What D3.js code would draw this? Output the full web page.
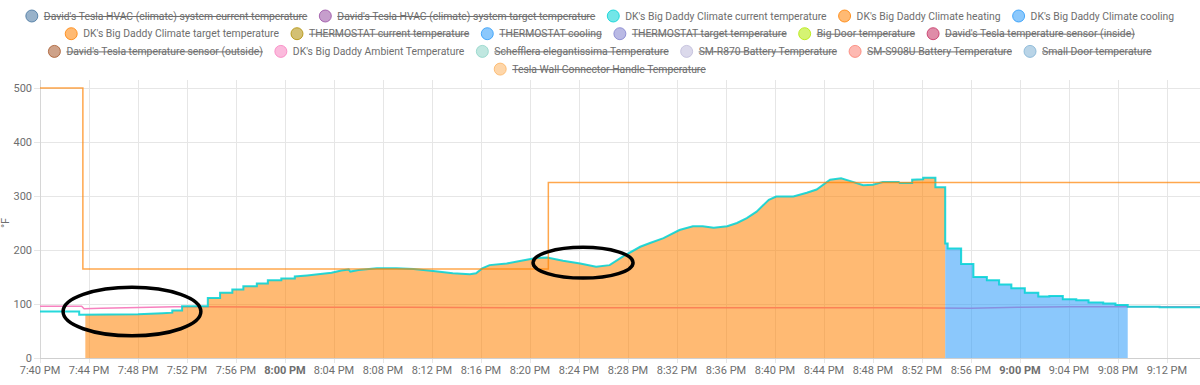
<!DOCTYPE html>
<html>
<head>
<meta charset="utf-8">
<script src="https://cdn.jsdelivr.net/npm/d3@7"></script>
<style>
  body { margin: 0; background: #fff; }
  svg { font-family: Roboto, "Noto Sans", sans-serif; }
</style>
</head>
<body>
<div id="chart"></div>
<script>
// ---- data ----
var legendRows = [
    ["David's Tesla HVAC (climate) system current temperature", "David's Tesla HVAC (climate) system target temperature",
     "DK's Big Daddy Climate current temperature", "DK's Big Daddy Climate heating", "DK's Big Daddy Climate cooling"],
    ["DK's Big Daddy Climate target temperature", "THERMOSTAT current temperature", "THERMOSTAT cooling",
     "THERMOSTAT target temperature", "Big Door temperature", "David's Tesla temperature sensor (inside)"],
    ["David's Tesla temperature sensor (outside)", "DK's Big Daddy Ambient Temperature", "Schefflera elegantissima Temperature",
     "SM-R870 Battery Temperature", "SM-S908U Battery Temperature", "Small Door temperature"],
    ["Tesla Wall Connector Handle Temperature"]
];
var legendColors = [
    ["#44739e", "#984ea3", "#00d2d5", "#ff8100", "#2b9af9"],
    ["#ff8100", "#af8d00", "#2b9af9", "#7f80cd", "#b3e900", "#c42e60"],
    ["#a65628", "#f781bf", "#8dd3c7", "#bebada", "#fb8072", "#80b1d3"],
    ["#fdb462"]
];
var legendHidden = [
    [true, true, false, false, false],
    [false, true, true, true, true, true],
    [true, false, true, true, true, true],
    [true]
];

var yTicks = [0, 100, 200, 300, 400, 500];
var timeStart = "19:40:00", timeEnd = "21:14:42";

// DK's Big Daddy Climate current temperature (vertices of the drawn line)
var currentTemp = [
    ["19:40:00", 86], ["19:43:12", 86], ["19:43:12", 80], ["19:48:00", 81], ["19:50:00", 83],
    ["19:50:48", 84], ["19:50:48", 88], ["19:51:36", 88], ["19:51:36", 96], ["19:53:42", 96],
    ["19:53:42", 111], ["19:54:42", 111], ["19:54:42", 121], ["19:55:42", 121], ["19:55:42", 127],
    ["19:56:36", 127], ["19:56:36", 133], ["19:57:42", 133], ["19:57:42", 138], ["19:58:36", 138],
    ["19:58:36", 144], ["19:59:42", 144], ["19:59:42", 147], ["20:00:48", 147], ["20:00:48", 151],
    ["20:01:48", 153], ["20:02:42", 155], ["20:03:48", 158], ["20:04:36", 162], ["20:05:12", 164],
    ["20:05:20", 160], ["20:06:00", 163], ["20:07:30", 166], ["20:09:06", 166], ["20:10:30", 165],
    ["20:12:06", 161], ["20:13:42", 157], ["20:15:06", 155], ["20:15:36", 157], ["20:16:06", 166],
    ["20:16:42", 172], ["20:18:06", 175], ["20:19:30", 181], ["20:20:30", 185], ["20:21:24", 186],
    ["20:22:42", 180], ["20:24:06", 175], ["20:25:24", 169], ["20:26:30", 172], ["20:27:36", 188],
    ["20:29:00", 206], ["20:29:48", 213], ["20:30:54", 222], ["20:32:12", 237], ["20:33:18", 244],
    ["20:34:06", 244], ["20:35:00", 241], ["20:36:06", 244], ["20:36:54", 250], ["20:37:42", 259],
    ["20:38:30", 271], ["20:39:30", 293], ["20:40:06", 299], ["20:41:30", 299], ["20:42:36", 306],
    ["20:43:24", 312], ["20:44:30", 330], ["20:45:24", 333], ["20:46:06", 328], ["20:47:12", 320],
    ["20:48:00", 321], ["20:48:48", 326], ["20:50:06", 326], ["20:50:12", 324], ["20:51:12", 324],
    ["20:51:12", 330], ["20:52:06", 331], ["20:52:06", 334], ["20:53:06", 334], ["20:53:06", 316],
    ["20:53:54", 316], ["20:53:54", 212], ["20:54:06", 212], ["20:54:06", 203], ["20:55:12", 203],
    ["20:55:12", 174], ["20:56:12", 174], ["20:56:12", 150], ["20:57:18", 150], ["20:57:18", 144],
    ["20:58:18", 144], ["20:58:18", 136], ["20:59:18", 136], ["20:59:18", 129], ["21:00:24", 129],
    ["21:00:24", 121], ["21:01:30", 121], ["21:01:30", 114], ["21:02:24", 114], ["21:02:24", 115],
    ["21:03:30", 115], ["21:03:30", 109], ["21:04:36", 109], ["21:04:36", 107], ["21:05:36", 107],
    ["21:05:36", 103], ["21:06:48", 103], ["21:06:48", 101], ["21:07:48", 101], ["21:07:48", 98],
    ["21:08:48", 98], ["21:08:48", 95], ["21:11:24", 95], ["21:11:24", 94], ["21:14:42", 94]
];

// DK's Big Daddy Climate target temperature
var targetTemp = [["19:40:00", 500], ["19:43:30", 165], ["20:21:30", 325], ["21:14:42", 325]];

// DK's Big Daddy Ambient Temperature
var ambientTemp = [
    ["19:40:00", 96], ["19:43:24", 96], ["19:43:36", 91], ["19:45:00", 92], ["19:47:00", 93],
    ["19:49:00", 94], ["19:51:00", 95], ["19:53:00", 95], ["20:00:00", 94], ["20:10:00", 94],
    ["20:20:00", 93], ["20:30:00", 93], ["20:40:00", 93], ["20:50:00", 93], ["20:56:00", 92],
    ["21:00:00", 94], ["21:04:00", 95], ["21:10:00", 95], ["21:14:42", 95]
];

var heatingPeriods = [["19:43:42", "20:53:54"]];
var coolingPeriods = [["20:53:54", "21:08:48"]];

// hand-drawn circles on the screenshot: [from, to, low value, high value]
var annotations = [
    ["19:41:53", "19:53:08", 41, 131],
    ["20:20:15", "20:28:25", 148, 205]
];

// ---- drawing ----
var parseTime = function(s) {
    var p = s.split(':').map(Number);
    return new Date(2023, 0, 1, p[0], p[1], p[2] || 0);
};

var width = 1200, height = 385;
var margin = { top: 88, right: 0, bottom: 27, left: 40 };

var svg = d3.select('#chart').append('svg')
    .attr('width', width)
    .attr('height', height);

var x = d3.scaleTime()
    .domain([parseTime(timeStart), parseTime(timeEnd)])
    .range([margin.left, width - margin.right]);

var y = d3.scaleLinear()
    .domain([0, 500])
    .range([height - margin.bottom, margin.top]);

var textColor = '#6e6e6e';

// legend: font size fitted so the first row spans the same width as the screenshot
var legendWidthRow0 = 1149;
var probe = svg.append('text').attr('font-size', 12).text(legendRows[0].join(''));
var rawW = probe.node().getComputedTextLength();
probe.remove();
var legendFont = 12 * (legendWidthRow0 - legendRows[0].length * 30 + 12) / rawW;

var legend = svg.append('g').attr('class', 'legend').attr('font-size', legendFont);
legendRows.forEach(function(row, r) {
    var rowY = 16 + r * 17.7;
    var g = legend.append('g');
    var cursor = 0;
    row.forEach(function(label, i) {
        var item = g.append('g').attr('transform', 'translate(' + cursor + ',0)');
        var col = legendColors[r][i];
        item.append('circle')
            .attr('cx', 6).attr('cy', rowY)
            .attr('r', 6)
            .attr('fill', col).attr('fill-opacity', 0.55)
            .attr('stroke', col).attr('stroke-opacity', 0.8).attr('stroke-width', 1);
        var t = item.append('text')
            .attr('x', 18).attr('y', rowY)
            .attr('dy', '0.35em')
            .attr('fill', textColor)
            .text(label);
        var w = t.node().getComputedTextLength();
        if (legendHidden[r][i]) {
            item.append('line')
                .attr('x1', 18).attr('x2', 18 + w)
                .attr('y1', rowY + 0.5).attr('y2', rowY + 0.5)
                .attr('stroke', textColor).attr('stroke-width', 1);
        }
        cursor += 18 + w + 12;
    });
    var total = cursor - 12;
    g.attr('transform', 'translate(' + (width / 2 - total / 2) + ',0)');
});

// grid
var xTicks = x.ticks(d3.timeMinute.every(4));
var grid = svg.append('g').attr('stroke', '#e6e6e6').attr('stroke-width', 1);
grid.selectAll('.vgrid').data(xTicks).enter().append('line')
    .attr('class', 'vgrid')
    .attr('x1', function(d) { return Math.round(x(d)) + 0.5; })
    .attr('x2', function(d) { return Math.round(x(d)) + 0.5; })
    .attr('y1', 80).attr('y2', y(0) + 5);
grid.selectAll('.hgrid').data(yTicks).enter().append('line')
    .attr('class', 'hgrid')
    .attr('x1', margin.left - 6).attr('x2', width)
    .attr('y1', function(d) { return Math.round(y(d)) + 0.5; })
    .attr('y2', function(d) { return Math.round(y(d)) + 0.5; });

// axis lines
svg.append('line')
    .attr('x1', margin.left + 0.5).attr('x2', margin.left + 0.5)
    .attr('y1', 80).attr('y2', y(0))
    .attr('stroke', '#d6d6d6');
svg.append('line')
    .attr('x1', margin.left).attr('x2', width)
    .attr('y1', Math.round(y(0)) + 0.5).attr('y2', Math.round(y(0)) + 0.5)
    .attr('stroke', '#cfcfcf');

// tick labels
svg.append('g').selectAll('text').data(xTicks).enter().append('text')
    .attr('x', function(d) { return x(d); })
    .attr('y', y(0) + 16)
    .attr('text-anchor', 'middle')
    .attr('font-size', 11)
    .attr('fill', textColor)
    .attr('font-weight', function(d) { return d.getMinutes() === 0 ? 'bold' : 'normal'; })
    .text(function(d) { return d3.timeFormat('%-I:%M %p')(d); });

svg.append('g').selectAll('text').data(yTicks).enter().append('text')
    .attr('x', margin.left - 8)
    .attr('y', function(d) { return y(d); })
    .attr('dy', '0.35em')
    .attr('text-anchor', 'end')
    .attr('font-size', 11)
    .attr('fill', textColor)
    .text(function(d) { return d; });

svg.append('text')
    .attr('transform', 'translate(9,' + y(250) + ') rotate(-90)')
    .attr('text-anchor', 'middle')
    .attr('font-size', 11)
    .attr('fill', textColor)
    .text('°F');

var toPts = function(arr) {
    return arr.map(function(d) { return { t: parseTime(d[0]), v: d[1] }; });
};

var cur = toPts(currentTemp);
var tgt = toPts(targetTemp);
var amb = toPts(ambientTemp);

// ambient line (drawn under the fills)
svg.append('path')
    .datum(amb)
    .attr('fill', 'none')
    .attr('stroke', '#f781bf')
    .attr('stroke-width', 1.5)
    .attr('d', d3.line().x(function(d) { return x(d.t); }).y(function(d) { return y(d.v); }));

// heating / cooling fills under current temperature
var area = d3.area()
    .x(function(d) { return x(d.t); })
    .y0(y(0))
    .y1(function(d) { return y(d.v); });

var defs = svg.append('defs');
function drawFill(periods, name, color) {
    periods.forEach(function(p, i) {
        var id = 'clip-' + name + '-' + i;
        defs.append('clipPath').attr('id', id).append('rect')
            .attr('x', x(parseTime(p[0])))
            .attr('width', x(parseTime(p[1])) - x(parseTime(p[0])))
            .attr('y', 0).attr('height', height);
        svg.append('path')
            .datum(cur)
            .attr('clip-path', 'url(#' + id + ')')
            .attr('fill', color)
            .attr('fill-opacity', 0.55)
            .attr('d', area);
    });
}
drawFill(heatingPeriods, 'heat', '#ff8100');
drawFill(coolingPeriods, 'cool', '#2b9af9');

// current temperature
svg.append('path')
    .datum(cur)
    .attr('fill', 'none')
    .attr('stroke', '#00d2d5')
    .attr('stroke-opacity', 0.85)
    .attr('stroke-width', 2)
    .attr('d', d3.line().x(function(d) { return x(d.t); }).y(function(d) { return y(d.v); }));

// target temperature
svg.append('path')
    .datum(tgt)
    .attr('fill', 'none')
    .attr('stroke', '#ff8100')
    .attr('stroke-opacity', 0.7)
    .attr('stroke-width', 1.5)
    .attr('d', d3.line().curve(d3.curveStepAfter)
        .x(function(d) { return x(d.t); }).y(function(d) { return y(d.v); }));

// annotations
svg.append('g').selectAll('ellipse').data(annotations).enter().append('ellipse')
    .attr('cx', function(d) { return (x(parseTime(d[0])) + x(parseTime(d[1]))) / 2; })
    .attr('cy', function(d) { return (y(d[2]) + y(d[3])) / 2; })
    .attr('rx', function(d) { return (x(parseTime(d[1])) - x(parseTime(d[0]))) / 2; })
    .attr('ry', function(d) { return (y(d[2]) - y(d[3])) / 2; })
    .attr('fill', 'none')
    .attr('stroke', '#000')
    .attr('stroke-width', 3.5);
</script>
</body>
</html>
